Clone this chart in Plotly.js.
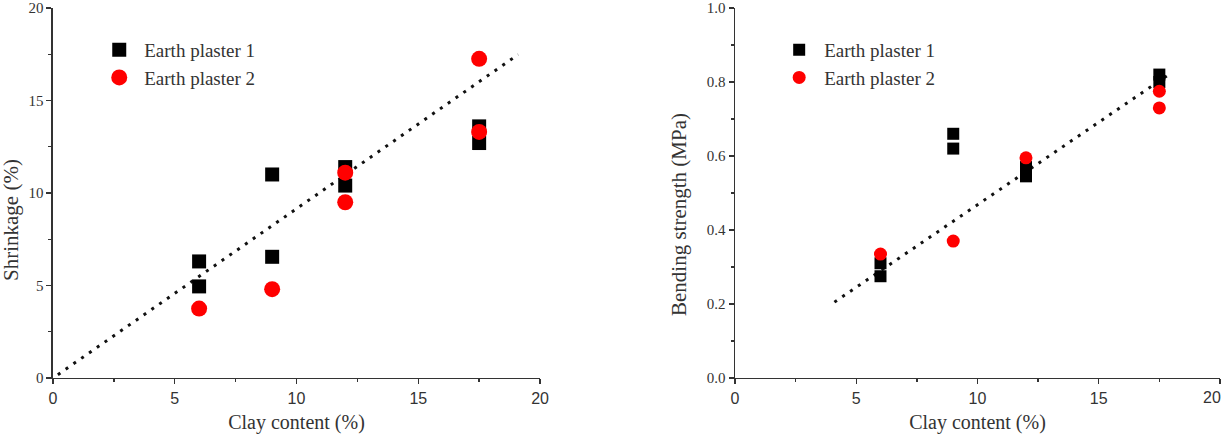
<!DOCTYPE html>
<html>
<head>
<meta charset="utf-8">
<script src="https://cdn.plot.ly/plotly-3.0.1.min.js"></script>
<style>html,body{margin:0;padding:0;background:#fff;}#chart{width:1224px;height:441px;}</style>
</head>
<body>
<div id="chart"></div>
<script>
// Shrinkage vs clay content
const shrinkP1X = [6, 6, 9, 9, 12, 12, 17.5, 17.5];
const shrinkP1Y = [6.3, 4.95, 11.0, 6.55, 11.4, 10.4, 13.6, 12.7];
const shrinkP2X = [6, 9, 12, 12, 17.5, 17.5];
const shrinkP2Y = [3.75, 4.8, 11.1, 9.5, 17.25, 13.3];
const shrinkFitX = [0.2, 19.1];
const shrinkFitY = [0.18, 17.48];

// Bending strength vs clay content
const bendP1X = [6, 6, 9, 9, 12, 12, 17.5, 17.5];
const bendP1Y = [0.31, 0.275, 0.66, 0.62, 0.57, 0.545, 0.82, 0.80];
const bendP2X = [6, 9, 12, 17.5, 17.5];
const bendP2Y = [0.335, 0.37, 0.595, 0.775, 0.73];
const bendFitX = [4.1, 18.0];
const bendFitY = [0.205, 0.825];

const seriesNames = ['Earth plaster 1', 'Earth plaster 2'];
const xTitle = 'Clay content (%)';
const yTitleLeft = 'Shrinkage (%)';
const yTitleRight = 'Bending strength (MPa)';
const xTickVals = [0, 5, 10, 15, 20];

const serif = 'Liberation Serif, Times New Roman, serif';
const sans = 'Liberation Sans, Arial, sans-serif';
const axCol = '#333';
const txtCol = '#333';

const traces = [
  {x: shrinkFitX, y: shrinkFitY, mode: 'lines', xaxis: 'x', yaxis: 'y', showlegend: false, hoverinfo: 'skip',
   line: {color: '#111', width: 3, dash: '3px,6.5px'}},
  {x: shrinkP1X, y: shrinkP1Y, mode: 'markers', name: seriesNames[0], xaxis: 'x', yaxis: 'y', legend: 'legend',
   marker: {symbol: 'square', size: 14, color: '#000'}},
  {x: shrinkP2X, y: shrinkP2Y, mode: 'markers', name: seriesNames[1], xaxis: 'x', yaxis: 'y', legend: 'legend',
   marker: {symbol: 'circle', size: 16, color: '#ff0000'}},
  {x: bendFitX, y: bendFitY, mode: 'lines', xaxis: 'x2', yaxis: 'y2', showlegend: false, hoverinfo: 'skip',
   line: {color: '#111', width: 3, dash: '3px,6.5px'}},
  {x: bendP1X, y: bendP1Y, mode: 'markers', name: seriesNames[0], xaxis: 'x2', yaxis: 'y2', legend: 'legend2',
   marker: {symbol: 'square', size: 12, color: '#000'}},
  {x: bendP2X, y: bendP2Y, mode: 'markers', name: seriesNames[1], xaxis: 'x2', yaxis: 'y2', legend: 'legend2',
   marker: {symbol: 'circle', size: 13, color: '#ff0000'}}
];

function xAx(domain, anchor) {
  return {domain: domain, anchor: anchor, range: [0, 20], tickvals: xTickVals, showgrid: false, zeroline: false,
    showline: true, linecolor: axCol, linewidth: 1.5, ticks: 'outside', ticklen: 5, tickwidth: 1.3, tickcolor: axCol,
    minor: {dtick: 2.5, tick0: 0, ticks: 'outside', ticklen: 3, tickwidth: 1.3, tickcolor: axCol},
    tickfont: {family: sans, size: 16, color: txtCol},
    title: {text: xTitle, font: {family: serif, size: 20, color: txtCol}, standoff: 9}};
}
function yAx(range, dtick, minor, anchor, fmt) {
  return {domain: [0.1429, 0.9819], anchor: anchor, range: range, dtick: dtick, tick0: 0, showgrid: false, zeroline: false,
    showline: true, linecolor: axCol, linewidth: 1.5, ticks: 'outside', ticklen: 5, tickwidth: 1.3, tickcolor: axCol,
    minor: {dtick: minor, ticks: 'outside', ticklen: 3, tickwidth: 1.3, tickcolor: axCol},
    tickformat: fmt, tickfont: {family: serif, size: 15, color: txtCol}};
}

const layout = {
  width: 1224, height: 441,
  margin: {l: 0, r: 0, t: 0, b: 0},
  paper_bgcolor: '#fff', plot_bgcolor: '#fff',
  showlegend: true,
  xaxis: xAx([0.0433, 0.4412], 'y'),
  yaxis: yAx([0, 20], 5, 2.5, 'x', 'd'),
  xaxis2: xAx([0.6005, 0.9967], 'y2'),
  yaxis2: yAx([0, 1], 0.2, 0.1, 'x2', '.1f'),
  legend: {x: 0.077, y: 0.93, xanchor: 'left', yanchor: 'top', bgcolor: 'rgba(0,0,0,0)',
    font: {family: serif, size: 19, color: txtCol}, tracegroupgap: 0, itemwidth: 40},
  legend2: {x: 0.6325, y: 0.93, xanchor: 'left', yanchor: 'top', bgcolor: 'rgba(0,0,0,0)',
    font: {family: serif, size: 19, color: txtCol}, tracegroupgap: 0, itemwidth: 40},
  annotations: [
    {text: yTitleLeft, xref: 'paper', yref: 'paper', x: 11 / 1224, y: 1 - 220 / 441, showarrow: false, textangle: -90,
     xanchor: 'center', yanchor: 'middle', font: {family: serif, size: 21, color: txtCol}},
    {text: yTitleRight, xref: 'paper', yref: 'paper', x: 679 / 1224, y: 1 - 215 / 441, showarrow: false, textangle: -90,
     xanchor: 'center', yanchor: 'middle', font: {family: serif, size: 21, color: txtCol}},
    {text: String(xTickVals[4]), xref: 'paper', yref: 'paper', x: 1, y: 1 - 387 / 441, showarrow: false,
     xanchor: 'right', yanchor: 'top', xshift: -1, font: {family: sans, size: 16, color: txtCol}}
  ]
};

Plotly.newPlot('chart', traces, layout, {staticPlot: true, displayModeBar: false});
</script>
</body>
</html>
